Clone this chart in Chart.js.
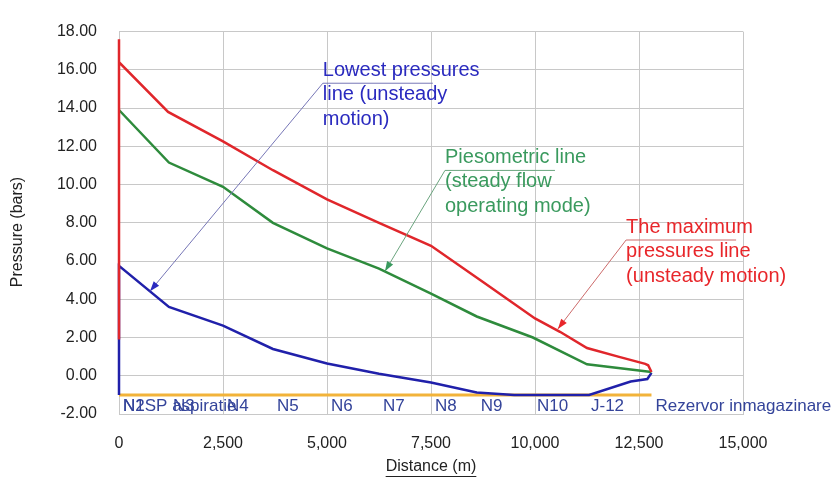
<!DOCTYPE html>
<html>
<head>
<meta charset="utf-8">
<script src="https://cdn.jsdelivr.net/npm/chart.js@4.4.1/dist/chart.umd.min.js"></script>
<style>
  html, body { margin: 0; padding: 0; background: #fff; }
</style>
</head>
<body>
<canvas id="pressureChart" width="834" height="479"></canvas>
<script>
// Distance along the main (m) and pressure (bar) for each envelope
const maxDist = [0, 0, 0, 1180, 2500, 3700, 5000, 6250, 7500, 8750, 10000, 10600, 11250, 12000, 12650, 12720, 12800];
const maxPres = [1.9, 17.6, 16.4, 13.8, 12.26, 10.75, 9.22, 8.0, 6.8, 4.9, 3.0, 2.3, 1.45, 1.0, 0.62, 0.55, 0.2];

const pieDist = [0, 1200, 2500, 3700, 5000, 6250, 7500, 8600, 9950, 11250, 12000, 12800];
const piePres = [13.9, 11.15, 9.88, 8.0, 6.66, 5.6, 4.3, 3.1, 2.0, 0.6, 0.4, 0.2];

const minDist = [0, 0, 1200, 2500, 3700, 5000, 6250, 7500, 8600, 9500, 11300, 12300, 12700, 12800];
const minPres = [-1.0, 5.75, 3.6, 2.62, 1.4, 0.64, 0.1, -0.35, -0.88, -1.0, -1.0, -0.3, -0.17, 0.15];

const pipeDist = [0, 12800];
const pipeElev = [-1.0, -1.0];

// node names along the pipeline
const nodeNames = ['N1', 'N2SP aspiratie', 'N3', 'N4', 'N5', 'N6', 'N7', 'N8', 'N9', 'N10', 'J-12', 'Rezervor inmagazinare'];
const nodeDist = [0, 0, 1200, 2500, 3700, 5000, 6250, 7500, 8600, 9950, 11250, 12800];

const xTicks = [0, 2500, 5000, 7500, 10000, 12500, 15000];
const yTicks = [-2, 0, 2, 4, 6, 8, 10, 12, 14, 16, 18];

const toPoints = (xs, ys) => xs.map((v, i) => ({ x: v, y: ys[i] }));

// callouts: text block hangs from the corner of the leader, arrow ends on the curve
const notes = [
  { lines: ['Lowest pressures', 'line (unsteady', 'motion)'], color: '#2a2abf', lead: '#7676b6',
    corner: [4900, 15.3], tip: [745, 4.42] },
  { lines: ['Piesometric line', '(steady flow', 'operating mode)'], color: '#3a9a5e', lead: '#6aa47e',
    corner: [7836, 10.74], tip: [6394, 5.46] },
  { lines: ['The maximum', 'pressures line', '(unsteady motion)'], color: '#e8262a', lead: '#cc6a6a',
    corner: [12190, 7.1], tip: [10550, 2.45] }
];

const FONT = '"Liberation Sans", Arial, sans-serif';

const overlay = {
  id: 'overlay',
  afterDatasetsDraw(chart) {
    const { ctx, chartArea, scales: { x, y } } = chart;
    ctx.save();

    // node labels under the suction line
    ctx.font = '17px ' + FONT;
    ctx.fillStyle = '#34449a';
    ctx.textAlign = 'left';
    ctx.textBaseline = 'middle';
    nodeNames.forEach((name, i) => {
      ctx.fillText(name, x.getPixelForValue(nodeDist[i]) + 4, y.getPixelForValue(-1) + 11);
    });

    // callouts with leader arrows
    notes.forEach(n => {
      const cx = x.getPixelForValue(n.corner[0]);
      const cy = y.getPixelForValue(n.corner[1]);
      const tx = x.getPixelForValue(n.tip[0]);
      const ty = y.getPixelForValue(n.tip[1]);
      ctx.strokeStyle = n.lead;
      ctx.lineWidth = 1;
      ctx.beginPath();
      ctx.moveTo(cx + 110, cy);
      ctx.lineTo(cx, cy);
      ctx.lineTo(tx, ty);
      ctx.stroke();

      const a = Math.atan2(ty - cy, tx - cx);
      const len = 10, half = 3.5;
      ctx.fillStyle = n.color;
      ctx.beginPath();
      ctx.moveTo(tx, ty);
      ctx.lineTo(tx - len * Math.cos(a) + half * Math.sin(a), ty - len * Math.sin(a) - half * Math.cos(a));
      ctx.lineTo(tx - len * Math.cos(a) - half * Math.sin(a), ty - len * Math.sin(a) + half * Math.cos(a));
      ctx.closePath();
      ctx.fill();

      ctx.font = '20px ' + FONT;
      ctx.textAlign = 'left';
      ctx.textBaseline = 'middle';
      n.lines.forEach((t, i) => ctx.fillText(t, cx, cy - 13 + 24.5 * i));
    });

    // axis titles
    ctx.fillStyle = '#222';
    ctx.font = '16px ' + FONT;
    ctx.textAlign = 'center';
    ctx.textBaseline = 'middle';
    const tX = (chartArea.left + chartArea.right) / 2;
    const tY = chart.height - 12;
    ctx.fillText('Distance (m)', tX, tY);
    const w = ctx.measureText('Distance (m)').width;
    ctx.strokeStyle = '#222';
    ctx.lineWidth = 1;
    ctx.beginPath();
    ctx.moveTo(tX - w / 2, tY + 9.5);
    ctx.lineTo(tX + w / 2, tY + 9.5);
    ctx.stroke();

    ctx.translate(18, 232);
    ctx.rotate(-Math.PI / 2);
    ctx.fillText('Pressure (bars)', 0, 0);
    ctx.restore();
  }
};

new Chart(document.getElementById('pressureChart'), {
  type: 'line',
  data: {
    datasets: [
      { label: 'Maximum pressures', data: toPoints(maxDist, maxPres), borderColor: '#e0262b', borderWidth: 2.5 },
      { label: 'Piesometric line', data: toPoints(pieDist, piePres), borderColor: '#2e8b3c', borderWidth: 2.5 },
      { label: 'Lowest pressures', data: toPoints(minDist, minPres), borderColor: '#2020aa', borderWidth: 2.5 },
      { label: 'Pipe', data: toPoints(pipeDist, pipeElev), borderColor: '#f2b33a', borderWidth: 3 }
    ]
  },
  options: {
    responsive: false,
    animation: false,
    clip: false,
    elements: { point: { radius: 0 }, line: { tension: 0 } },
    layout: { padding: { top: 20, right: 91, left: 0, bottom: 0 } },
    plugins: { legend: { display: false }, tooltip: { enabled: false } },
    scales: {
      x: {
        type: 'linear',
        min: 0,
        max: 15000,
        afterFit: s => { s.height = 65; },
        afterBuildTicks: s => { s.ticks = xTicks.map(v => ({ value: v })); },
        grid: { color: '#c8c8c8', drawTicks: false },
        border: { color: '#c8c8c8' },
        ticks: {
          padding: 20,
          color: '#222',
          font: { family: FONT, size: 16 },
          maxRotation: 0,
          callback: v => v.toLocaleString('en-US')
        }
      },
      y: {
        min: -2,
        max: 18,
        afterFit: s => { s.width = 119; },
        afterBuildTicks: s => { s.ticks = yTicks.map(v => ({ value: v })); },
        grid: { color: '#c8c8c8', drawTicks: false },
        border: { color: '#c8c8c8' },
        ticks: {
          padding: 22,
          color: '#222',
          font: { family: FONT, size: 16 },
          callback: v => v.toFixed(2)
        }
      }
    }
  },
  plugins: [overlay]
});
</script>
</body>
</html>
